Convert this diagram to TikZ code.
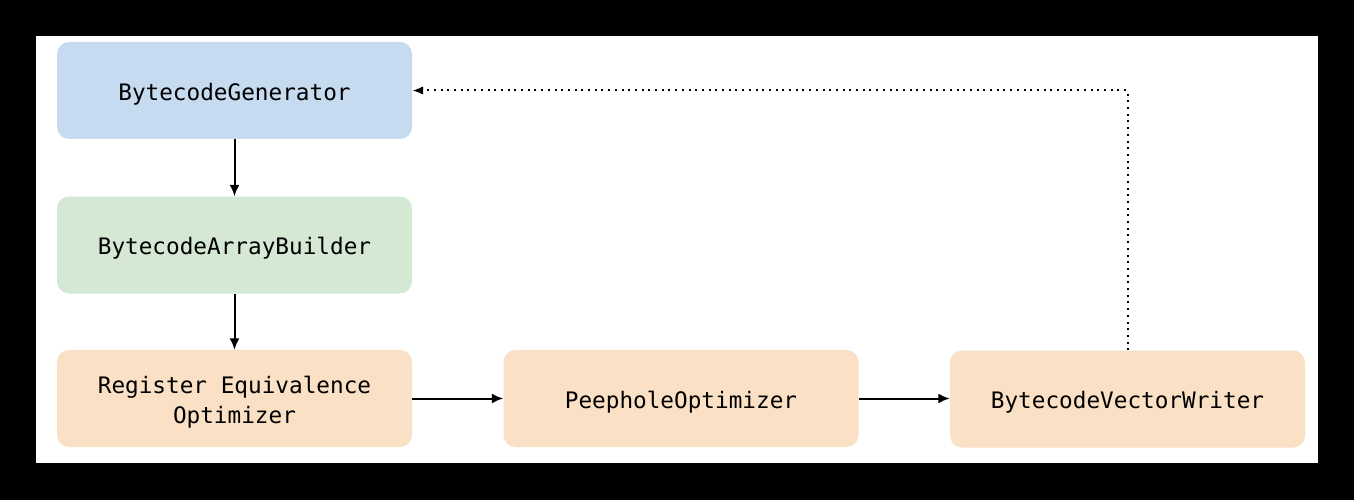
\documentclass[tikz,border=0pt]{standalone}
\usepackage{fontspec}
\setmonofont{DejaVu Sans Mono}
\usetikzlibrary{arrows.meta}
\definecolor{bblue}{RGB}{198,218,240}
\definecolor{bgreen}{RGB}{213,232,212}
\definecolor{borange}{RGB}{250,224,196}
\newcommand{\tst}{\rule{0pt}{24.5pt}}
\begin{document}
\begin{tikzpicture}[x=1pt,y=-1pt,
  box/.style={rounded corners=12pt, minimum width=355pt, minimum height=97pt, inner sep=0pt, align=center,
    font=\ttfamily\fontsize{22.7pt}{30pt}\selectfont, text=black},
  conn/.style={-{Latex[length=11.5pt,width=10pt]}, line width=2pt, black},
  dotconn/.style={-{Latex[length=11pt,width=8.5pt]}, line width=2pt, black, dash pattern=on 2pt off 4.7pt}]
\fill[black] (0,0) rectangle (1354,500);
\fill[white] (36,36) rectangle (1318,463);
\useasboundingbox (0,0) rectangle (1354,500);
\node[box, fill=bblue] (bg) at (234.5,90.5) {\tst BytecodeGenerator};
\node[box, fill=bgreen] (bab) at (234.5,245) {\tst BytecodeArrayBuilder};
\node[box, fill=borange] (reo) at (234.5,398.5) {\tst Register Equivalence\\Optimizer};
\node[box, fill=borange] (po) at (681,398.5) {\tst PeepholeOptimizer};
\node[box, fill=borange] (bvw) at (1127.5,399) {\tst BytecodeVectorWriter};
\draw[conn] (bg) -- (bab);
\draw[conn] (bab) -- (reo);
\draw[conn] (reo) -- (po);
\draw[conn] (po) -- (po -| bvw.west);
\coordinate (corner) at (bvw.north |- bg.east);
\draw[dotconn] (bvw.north) -- (corner) -- (bg.east);
\end{tikzpicture}
\end{document}
